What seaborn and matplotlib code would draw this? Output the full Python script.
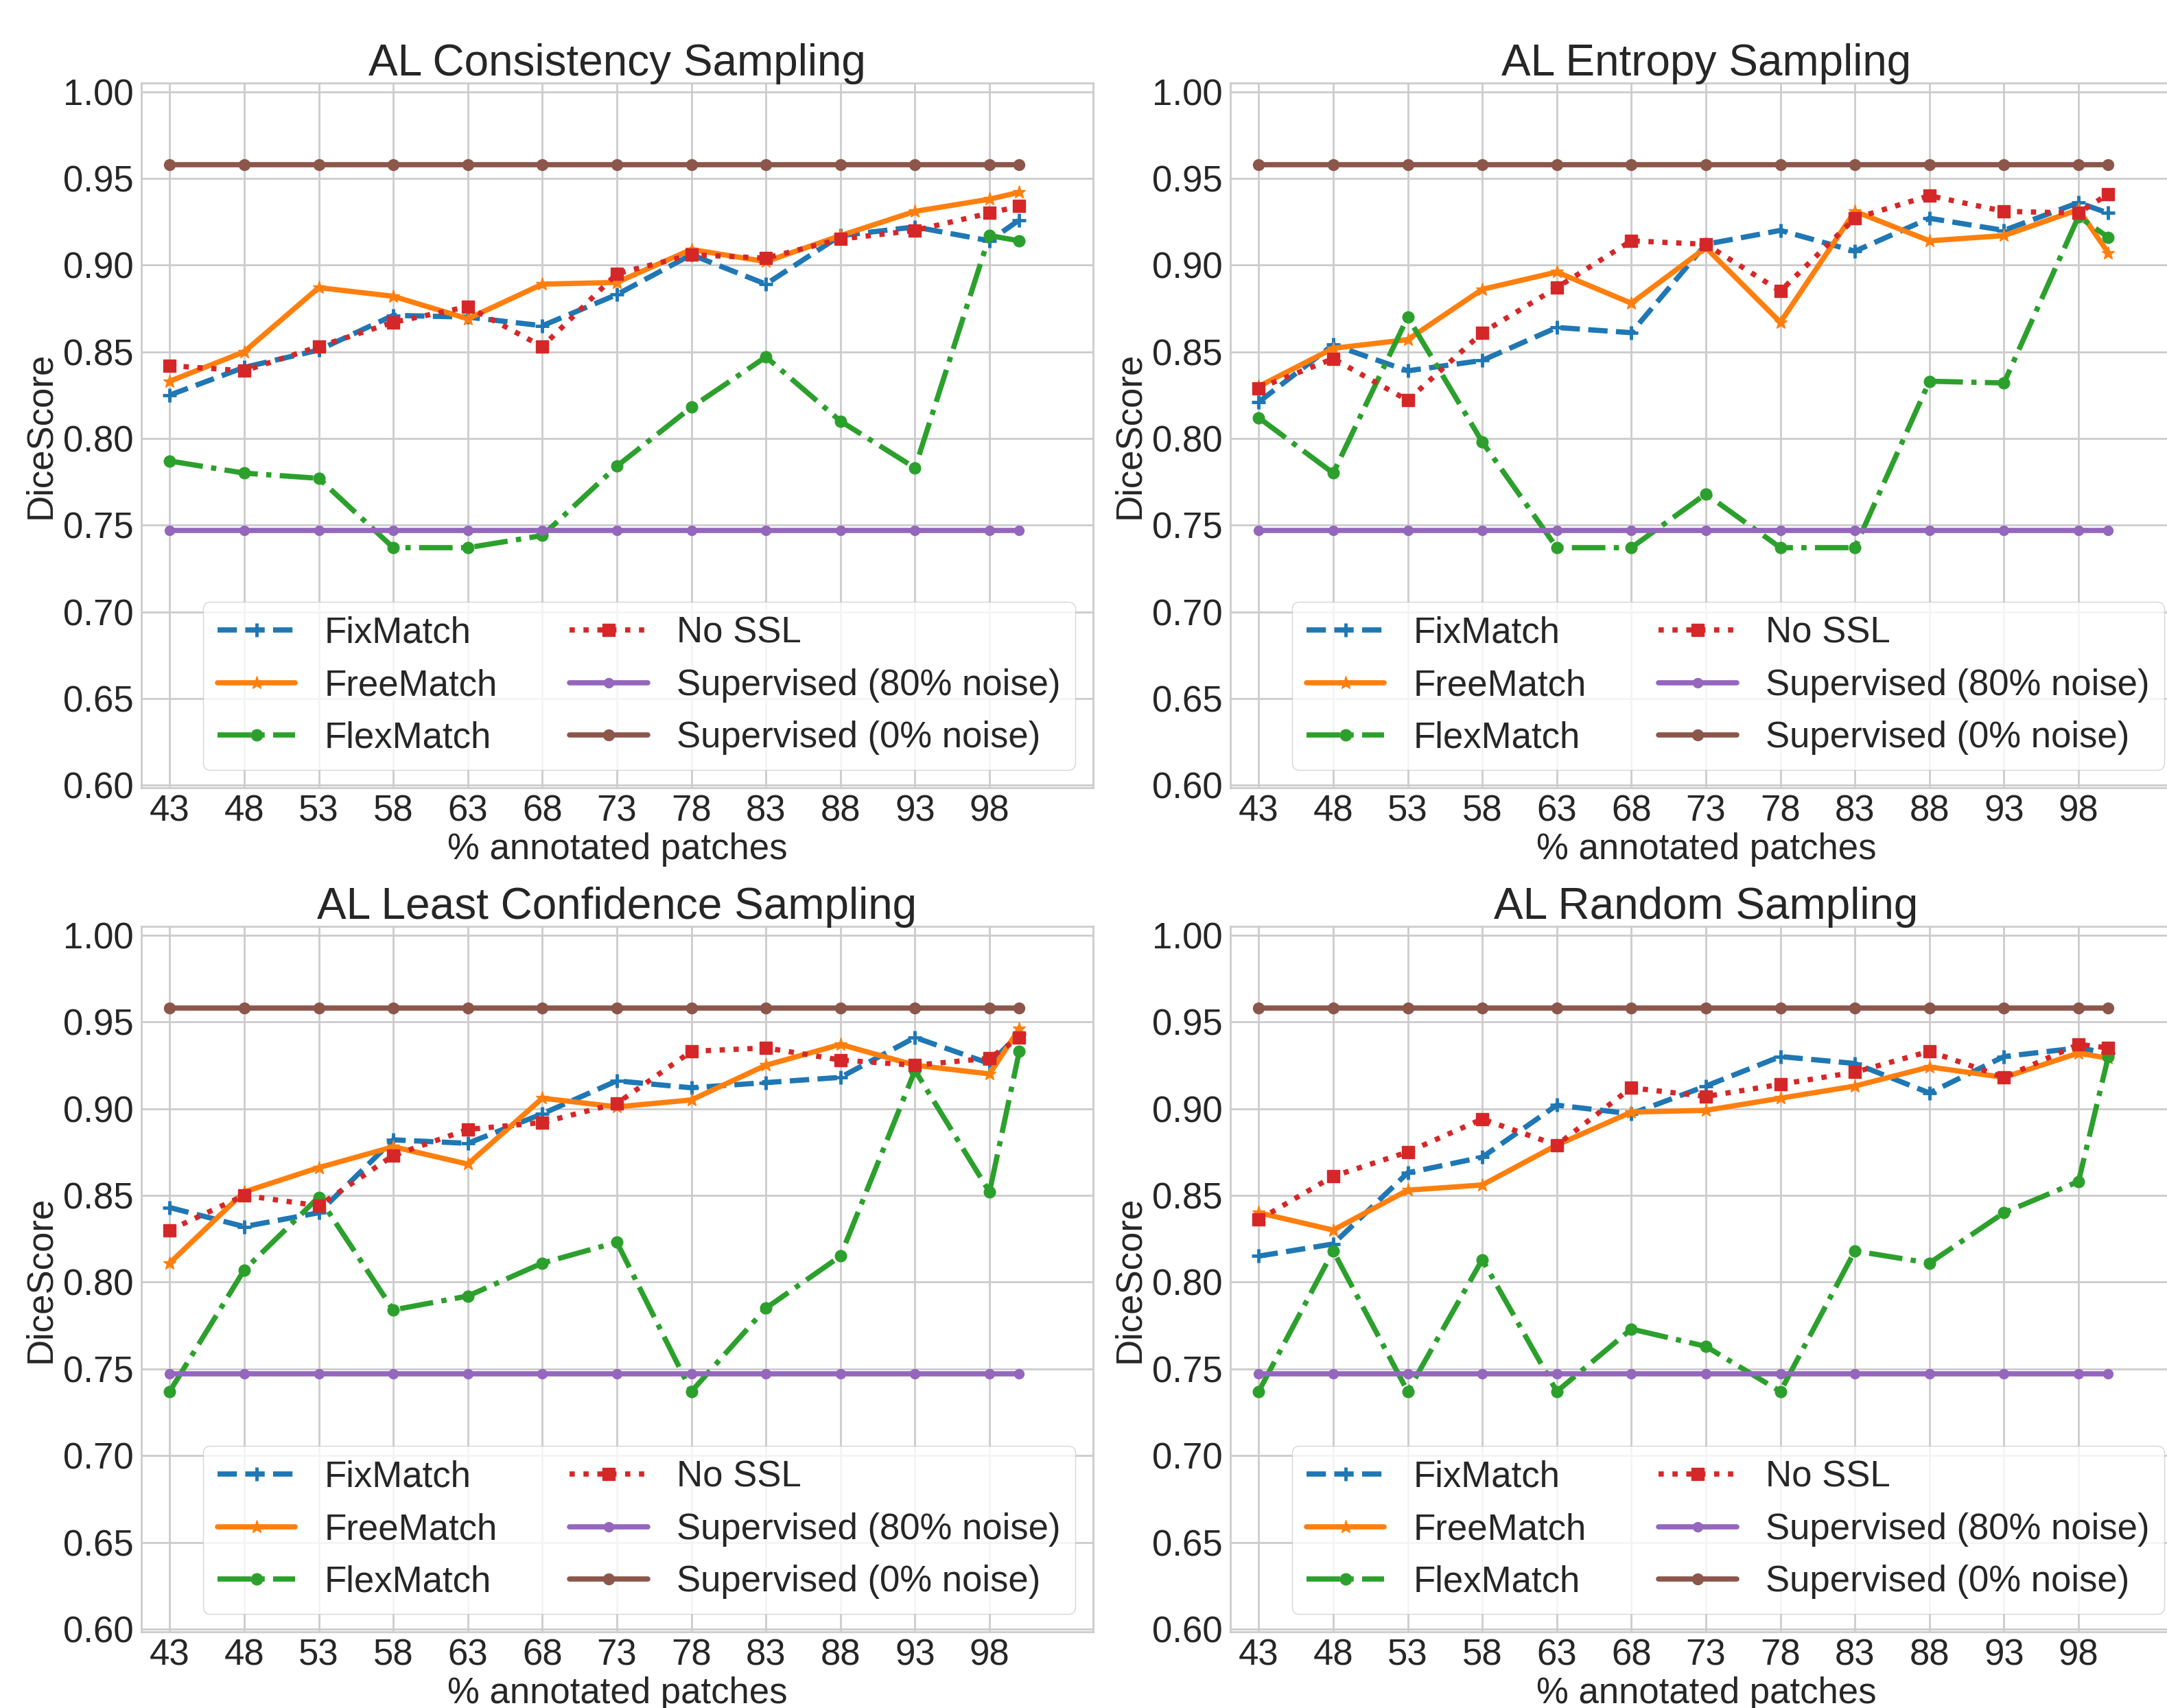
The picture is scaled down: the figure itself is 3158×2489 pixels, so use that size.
import matplotlib
matplotlib.use("Agg")
import matplotlib.pyplot as plt
import seaborn as sns
import pandas as pd

# ---------------- data ----------------
x_pct = [43, 48, 53, 58, 63, 68, 73, 78, 83, 88, 93, 98, 100]
x_ticks = [43, 48, 53, 58, 63, 68, 73, 78, 83, 88, 93, 98]
y_ticks = [0.60, 0.65, 0.70, 0.75, 0.80, 0.85, 0.90, 0.95, 1.00]

titles = ["AL Consistency Sampling", "AL Entropy Sampling",
          "AL Least Confidence Sampling", "AL Random Sampling"]
series_names = ["FixMatch", "FreeMatch", "FlexMatch", "No SSL",
                "Supervised (80% noise)", "Supervised (0% noise)"]

# AL Consistency Sampling
cons_fixmatch = [0.825, 0.841, 0.851, 0.871, 0.870, 0.865, 0.883, 0.906, 0.889, 0.917, 0.922, 0.914, 0.926]
cons_freematch = [0.833, 0.850, 0.887, 0.882, 0.869, 0.889, 0.890, 0.909, 0.902, 0.917, 0.931, 0.938, 0.942]
cons_flexmatch = [0.787, 0.780, 0.777, 0.737, 0.737, 0.744, 0.784, 0.818, 0.847, 0.810, 0.783, 0.917, 0.914]
cons_nossl = [0.842, 0.839, 0.853, 0.867, 0.876, 0.853, 0.895, 0.906, 0.904, 0.915, 0.920, 0.930, 0.934]

# AL Entropy Sampling
ent_fixmatch = [0.821, 0.854, 0.839, 0.845, 0.864, 0.861, 0.912, 0.920, 0.908, 0.927, 0.920, 0.936, 0.930]
ent_freematch = [0.830, 0.852, 0.857, 0.886, 0.896, 0.878, 0.910, 0.867, 0.931, 0.914, 0.917, 0.932, 0.907]
ent_flexmatch = [0.812, 0.780, 0.870, 0.798, 0.737, 0.737, 0.768, 0.737, 0.737, 0.833, 0.832, 0.928, 0.916]
ent_nossl = [0.829, 0.846, 0.822, 0.861, 0.887, 0.914, 0.912, 0.885, 0.927, 0.940, 0.931, 0.930, 0.941]

# AL Least Confidence Sampling
lc_fixmatch = [0.843, 0.832, 0.840, 0.882, 0.880, 0.897, 0.916, 0.912, 0.915, 0.918, 0.941, 0.926, 0.943]
lc_freematch = [0.811, 0.852, 0.866, 0.878, 0.868, 0.906, 0.901, 0.905, 0.925, 0.937, 0.925, 0.920, 0.946]
lc_flexmatch = [0.737, 0.807, 0.849, 0.784, 0.792, 0.811, 0.823, 0.737, 0.785, 0.815, 0.922, 0.852, 0.933]
lc_nossl = [0.830, 0.850, 0.844, 0.873, 0.888, 0.892, 0.903, 0.933, 0.935, 0.928, 0.925, 0.929, 0.941]

# AL Random Sampling
rnd_fixmatch = [0.815, 0.822, 0.863, 0.872, 0.902, 0.897, 0.913, 0.930, 0.926, 0.909, 0.930, 0.935, 0.932]
rnd_freematch = [0.840, 0.830, 0.853, 0.856, 0.879, 0.898, 0.899, 0.906, 0.913, 0.924, 0.918, 0.932, 0.929]
rnd_flexmatch = [0.737, 0.818, 0.737, 0.813, 0.737, 0.773, 0.763, 0.737, 0.818, 0.811, 0.840, 0.858, 0.930]
rnd_nossl = [0.836, 0.861, 0.875, 0.894, 0.879, 0.912, 0.907, 0.914, 0.921, 0.933, 0.918, 0.937, 0.935]

# Supervised baselines (same in every panel)
sup_80_noise = [0.747, 0.747, 0.747, 0.747, 0.747, 0.747, 0.747, 0.747, 0.747, 0.747, 0.747, 0.747, 0.747]
sup_0_noise = [0.958, 0.958, 0.958, 0.958, 0.958, 0.958, 0.958, 0.958, 0.958, 0.958, 0.958, 0.958, 0.958]

panels = [
    [cons_fixmatch, cons_freematch, cons_flexmatch, cons_nossl, sup_80_noise, sup_0_noise],
    [ent_fixmatch, ent_freematch, ent_flexmatch, ent_nossl, sup_80_noise, sup_0_noise],
    [lc_fixmatch, lc_freematch, lc_flexmatch, lc_nossl, sup_80_noise, sup_0_noise],
    [rnd_fixmatch, rnd_freematch, rnd_flexmatch, rnd_nossl, sup_80_noise, sup_0_noise],
]

# ---------------- style ----------------
sns.set_style("whitegrid")
plt.rcParams["font.family"] = ["Liberation Sans", "DejaVu Sans"]
plt.rcParams["axes.edgecolor"] = "0.8"
plt.rcParams["axes.linewidth"] = 2.0
plt.rcParams["grid.color"] = "0.8"
plt.rcParams["grid.linewidth"] = 2.0
plt.rcParams["text.color"] = "0.15"
plt.rcParams["axes.labelcolor"] = "0.15"
plt.rcParams["xtick.color"] = "0.15"
plt.rcParams["ytick.color"] = "0.15"

styles = [
    dict(color="#1f77b4", linestyle="--", marker="+", markersize=14, markeredgewidth=3.5),
    dict(color="#ff7f0e", linestyle="-", marker="*", markersize=14, markeredgewidth=1),
    dict(color="#2ca02c", linestyle="-.", marker="o", markersize=12, markeredgewidth=1),
    dict(color="#d62728", linestyle=":", marker="s", markersize=13, markeredgewidth=1),
    dict(color="#9467bd", linestyle="-", marker="o", markersize=10, markeredgewidth=1),
    dict(color="#8c564b", linestyle="-", marker="o", markersize=11.5, markeredgewidth=1),
]

W, H = 3158, 2489
fig = plt.figure(figsize=(W / 100, H / 100), dpi=100)

# axes boxes in pixels: (left, top, right, bottom)
boxes = [(206, 121, 1593, 1148), (1793, 121, 3180, 1148),
         (206, 1350, 1593, 2378), (1793, 1350, 3180, 2378)]

for k, (box, title, series) in enumerate(zip(boxes, titles, panels)):
    l, t, r, b = box
    ax = fig.add_axes([l / W, 1 - b / H, (r - l) / W, (b - t) / H])
    for name, vals, st in zip(series_names, series, styles):
        df = pd.DataFrame({"x": x_pct, "y": vals})
        sns.lineplot(data=df, x="x", y="y", ax=ax, label=name,
                     color=st["color"], linestyle=st["linestyle"],
                     marker=st["marker"], markersize=st["markersize"],
                     markeredgewidth=st["markeredgewidth"],
                     markeredgecolor=st["color"], markerfacecolor=st["color"],
                     linewidth=5.5)
    ax.set_xlim(41.1, 104.95)
    ax.set_ylim(0.5985, 1.005)
    ax.set_xticks(x_ticks)
    ax.set_xticklabels([str(v) for v in x_ticks])
    ax.set_yticks(y_ticks)
    ax.set_yticklabels([f"{v:.2f}" for v in y_ticks])
    ax.tick_params(axis="x", length=0, pad=6.5, labelsize=38)
    ax.tick_params(axis="y", length=0, pad=8, labelsize=38)
    ax.set_xlabel("% annotated patches", fontsize=38, labelpad=4)
    ax.set_ylabel("DiceScore", fontsize=38, labelpad=6)
    ax.set_title(title, fontsize=46, pad=8)
    ax.grid(True)
    for sp in ax.spines.values():
        sp.set_visible(True)
        sp.set_color("0.8")
        sp.set_linewidth(2.0)
    ax.legend(loc="lower right", ncol=2, frameon=True, fontsize=38,
              fancybox=True, framealpha=0.8, edgecolor="0.8",
              facecolor="white", handlelength=2.15, handletextpad=0.8,
              columnspacing=2.0, borderaxespad=0.5)

fig.savefig("out.png", dpi=100)
